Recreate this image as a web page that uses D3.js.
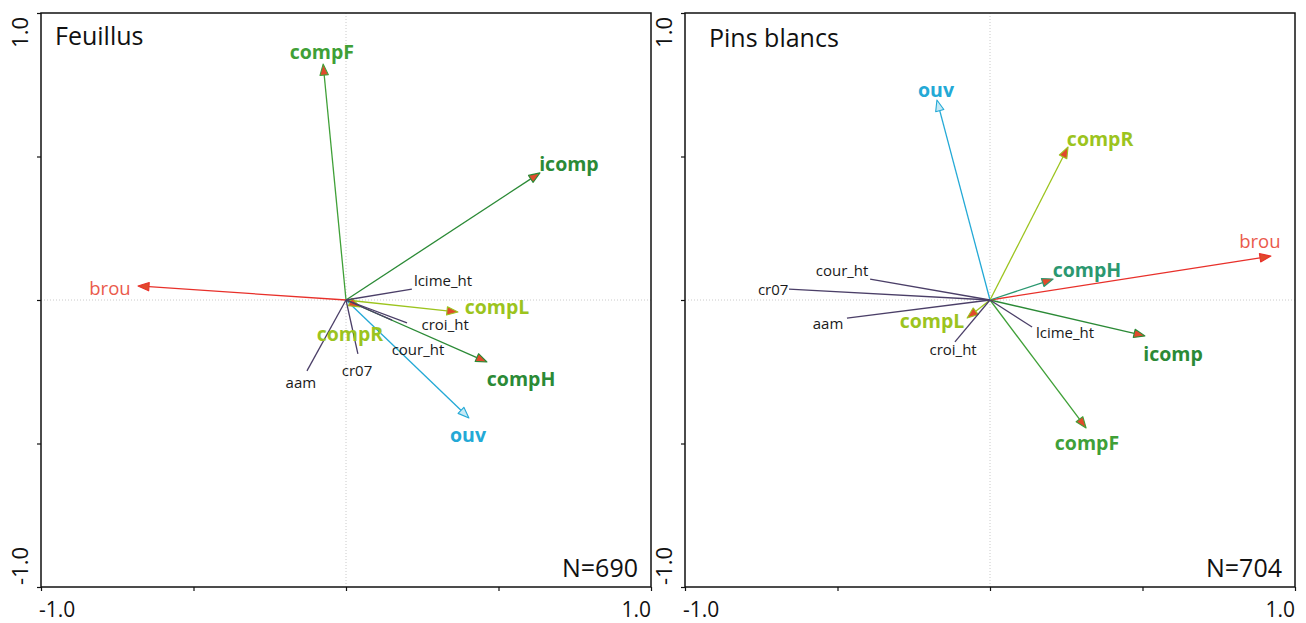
<!DOCTYPE html>
<html><head><meta charset="utf-8">
<script src="https://cdn.jsdelivr.net/npm/d3@7"></script>
<style>body{margin:0;background:#fff}svg{display:block}text{font-family:"Open Sans",sans-serif}</style>
</head><body>
<svg id="c" width="1306" height="623"></svg>
<script>
// ---- data ----
const panelTitles = ["Feuillus", "Pins blancs"];
const panelN = ["N=690", "N=704"];
const tickValues = [-1, -0.5, 0, 0.5, 1];
const tickLabels = ["-1.0", "1.0"];
const variables = ["compF","icomp","brou","compL","compH","ouv","compR","lcime_ht","croi_ht","cour_ht","cr07","aam"];
const isArrow = [true,true,true,true,true,true,true,false,false,false,false,false];
// Feuillus loadings (axis1, axis2)
const feuX = [-0.075, 0.636, -0.682, 0.367, 0.462, 0.403, 0.046, 0.216, 0.200, 0.151, 0.039, -0.128];
const feuY = [ 0.822, 0.443,  0.049, -0.042, -0.216, -0.411, -0.024, 0.038, -0.080, -0.070, -0.188, -0.247];
const feuLabX = [-0.079, 0.731, -0.774, 0.495, 0.574, 0.400, 0.013, 0.318, 0.325, 0.236, 0.036, -0.148];
const feuLabY = [ 0.865, 0.477,  0.045, -0.021, -0.272, -0.470, -0.115, 0.070, -0.084, -0.170, -0.244, -0.285];
// Pins blancs loadings
const pinX = [0.315, 0.508, 0.921, -0.075, 0.207, -0.174, 0.256, 0.138, -0.115, -0.393, -0.659, -0.469];
const pinY = [-0.446, -0.125, 0.153, -0.063, 0.073, 0.697, 0.533, -0.094, -0.146, 0.073, 0.038, -0.063];
const pinLabX = [0.318, 0.600, 0.885, -0.190, 0.318, -0.177, 0.361, 0.246, -0.121, -0.485, -0.711, -0.531];
const pinLabY = [-0.498, -0.185, 0.209, -0.070, 0.108, 0.735, 0.564, -0.111, -0.171, 0.105, 0.038, -0.080];

// ---- styles ----
const style = {
  compF:{line:"#3fa037", text:"#3fa037", bold:true},
  icomp:{line:"#2b8a36", text:"#2b8a36", bold:true},
  brou:{line:"#e8302a", text:"#ea5a4c", bold:false, size:18.5},
  compL:{line:"#9cc41e", text:"#9cc41e", bold:true},
  compH:{line:"#2b8a36", text:"#2b8a36", bold:true},
  ouv:{line:"#23a9d6", text:"#23a9d6", bold:true, hollow:true},
  compR:{line:"#9cc41e", text:"#9cc41e", bold:true},
  other:{line:"#4b3f68", text:"#1a1a1a", bold:false, size:15}
};
const compHRight = "#2b9870";

const panels = [
  {x0:41, x1:651, xs:feuX, ys:feuY, lx:feuLabX, ly:feuLabY, tdx:14, tby:45},
  {x0:685, x1:1295, xs:pinX, ys:pinY, lx:pinLabX, ly:pinLabY, tdx:24, tby:47}
];
const yTop = 13, yBot = 587;

const svg = d3.select("#c");

panels.forEach((p, pi) => {
  const x = d3.scaleLinear().domain([-1,1]).range([p.x0, p.x1]);
  const y = d3.scaleLinear().domain([-1,1]).range([yBot, yTop]);
  const g = svg.append("g");

  // reference dotted lines
  g.append("line").attr("x1", x(0)).attr("x2", x(0)).attr("y1", yTop).attr("y2", yBot)
    .attr("stroke","#bdbdbd").attr("stroke-width",0.8).attr("stroke-dasharray","1,2");
  g.append("line").attr("x1", p.x0).attr("x2", p.x1).attr("y1", y(0)).attr("y2", y(0))
    .attr("stroke","#bdbdbd").attr("stroke-width",0.8).attr("stroke-dasharray","1,2");

  // axes
  const ax = g.append("g").attr("transform",`translate(0,${yBot})`)
    .call(d3.axisBottom(x).tickValues(tickValues).tickSize(4).tickFormat(""));
  const ay = g.append("g").attr("transform",`translate(${p.x0},0)`)
    .call(d3.axisLeft(y).tickValues(tickValues).tickSize(4).tickFormat(""));
  [ax, ay].forEach(a => { a.select(".domain").remove(); a.selectAll("line").attr("stroke","#111").attr("stroke-width",1.2); });

  // frame
  g.append("rect").attr("x", p.x0).attr("y", yTop).attr("width", p.x1 - p.x0).attr("height", yBot - yTop)
    .attr("fill","none").attr("stroke","#111").attr("stroke-width",1.5);

  // axis labels
  g.append("text").attr("x", p.x0 - 2).attr("y", 617).attr("font-size",21).attr("fill","#111").text(tickLabels[0]);
  g.append("text").attr("x", p.x1).attr("y", 617).attr("text-anchor","end").attr("font-size",21).attr("fill","#111").text(tickLabels[1]);
  g.append("text").attr("transform",`translate(${p.x0-13},${yTop+4}) rotate(-90)`).attr("text-anchor","end")
    .attr("font-size",22).attr("fill","#111").text(tickLabels[1]);
  g.append("text").attr("transform",`translate(${p.x0-13},${yBot-2}) rotate(-90)`).attr("text-anchor","start")
    .attr("font-size",22).attr("fill","#111").text(tickLabels[0]);

  // title & N
  g.append("text").attr("x", p.x0 + p.tdx).attr("y", p.tby).attr("font-size",25).attr("fill","#111").text(panelTitles[pi]);
  g.append("text").attr("x", p.x1 - 13).attr("y", 577).attr("text-anchor","end").attr("font-size",25).attr("fill","#111").text(panelN[pi]);

  // vectors
  variables.forEach((v, i) => {
    const st = style[v] || style.other;
    const lineCol = (pi === 1 && v === "compH") ? compHRight : st.line;
    const ox = x(0), oy = y(0), tx = x(p.xs[i]), ty = y(p.ys[i]);
    const ang = Math.atan2(ty - oy, tx - ox);
    const L = 11, W = 4.2;
    const bx = tx - L*Math.cos(ang), by = ty - L*Math.sin(ang);
    g.append("line").attr("x1", ox).attr("y1", oy)
      .attr("x2", isArrow[i] ? bx : tx).attr("y2", isArrow[i] ? by : ty)
      .attr("stroke", lineCol).attr("stroke-width", 1.3);
    if (isArrow[i]) {
      const pts = [[tx,ty],[bx + W*Math.sin(ang), by - W*Math.cos(ang)],[bx - W*Math.sin(ang), by + W*Math.cos(ang)]];
      g.append("polygon").attr("points", pts.map(d=>d.join(",")).join(" "))
        .attr("fill", st.hollow ? "#c6e9f5" : "#e04a2c")
        .attr("stroke", lineCol).attr("stroke-width", 1.1).attr("stroke-linejoin","round");
    }
  });
  variables.forEach((v, i) => {
    const st = style[v] || style.other;
    const textCol = (pi === 1 && v === "compH") ? compHRight : st.text;
    g.append("text").attr("x", x(p.lx[i])).attr("y", y(p.ly[i]))
      .attr("text-anchor","middle").attr("dominant-baseline","central")
      .attr("font-size", st.size || 19.5).attr("font-weight", st.bold ? 700 : 400)
      .attr("fill", textCol).text(v);
  });
});
</script>
</body></html>
